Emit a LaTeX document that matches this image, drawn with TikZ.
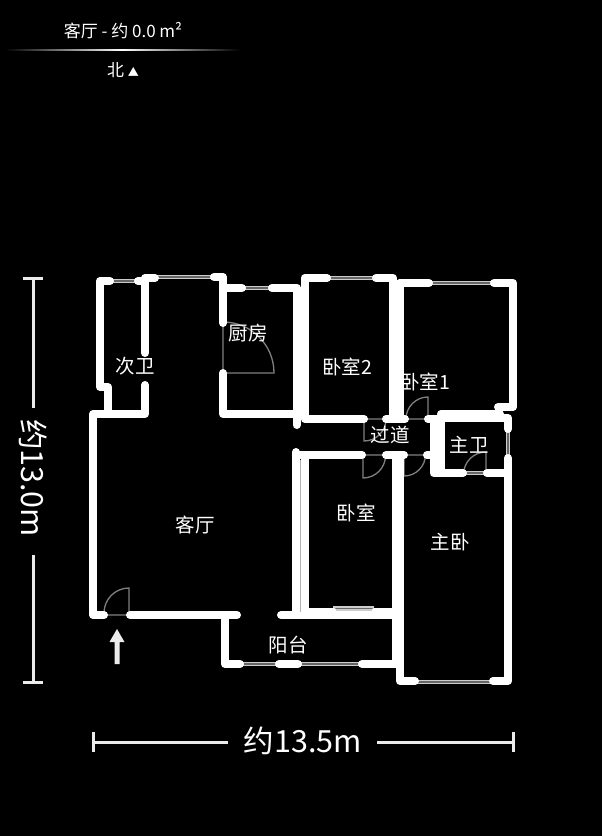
\documentclass[tikz,border=0pt]{standalone}
\usepackage{fontspec}
\usepackage{xcolor}
\setmainfont{Noto Sans CJK SC}
\newcommand{\labelsize}{\fontsize{19.5}{20}\selectfont}
\newcommand{\headsize}{\fontsize{17}{17}\selectfont}
\newcommand{\dimsize}{\fontsize{30.5}{31}\selectfont}

\begin{document}
\begin{tikzpicture}[
    x=1pt, y=-1pt,
    wall/.style={draw=white, line width=8pt, line cap=round, line join=round},
    thinwall/.style={draw=white, line width=4pt, line cap=round},
    windowpane/.style={draw=gray!40, line width=1.3pt, double=black!60, double distance=1.5pt, line cap=butt},
    doorline/.style={draw=gray, line width=1.3pt},
    roomlabel/.style={text=white, font=\labelsize, inner sep=0pt},
    headlabel/.style={text=white, font=\headsize, inner sep=0pt},
    dimlabel/.style={text=white, font=\dimsize, inner sep=0pt},
    dimline/.style={draw=white!92!black, line width=3pt},
    ]
    \fill[black] (0, 0) rectangle (602, 836);
    \useasboundingbox (0, 0) rectangle (602, 836);

    % header
    \node[headlabel] (title) at (123, 31) {客厅 - 约 0.0 m²};
    \node[headlabel] (north) at (123, 70) {北 {\fontsize{11}{11}\selectfont ▲}};
    \shade[left color=black, right color=black, middle color=white, shading angle=90] (5, 49.5) rectangle (240, 50.5);

    % windows
    \draw[windowpane] (108, 281) -- (140, 281);
    \draw[windowpane] (152, 277) -- (218, 277);
    \draw[windowpane] (240, 288) -- (272, 288);
    \draw[windowpane] (325, 278) -- (377, 278);
    \draw[windowpane] (430, 283) -- (494, 283);
    \draw[windowpane] (508, 429) -- (508, 457);
    \draw[windowpane] (463, 473) -- (487, 473);
    \draw[windowpane] (240, 664) -- (279, 664);
    \draw[windowpane] (298, 664) -- (362, 664);
    \draw[windowpane] (333, 608.5) -- (374, 608.5);
    \draw[windowpane] (416, 682) -- (492, 682);

    % doors
    \draw[doorline] (105, 615) -- (129, 615) -- (129, 588) arc (-90:-180:25);
    \draw[doorline] (223, 323) -- (223, 373) -- (274, 373) arc (0:-90:51);
    \draw[doorline] (406, 419) -- (428, 419) -- (428, 397) arc (-90:-180:22);
    \draw[doorline] (386, 419) -- (364, 419) -- (364, 441) arc (90:0:22);
    \draw[doorline] (385, 455) -- (363, 455) -- (363, 478) arc (90:0:22.5);
    \draw[doorline] (426, 455) -- (404, 455) -- (404, 476) arc (90:0:21.5);
    \draw[doorline] (486, 473) -- (486, 452) arc (-90:-180:22.5);
    \draw[doorline] (436, 456) -- (436, 470);

    % walls
    \draw[wall] (110, 281) -- (100, 281) -- (100, 387) -- (108, 387) -- (108, 410);
    \draw[wall] (143, 281) -- (138, 281);
    \draw[wall] (145, 353) -- (145, 278) -- (155, 278);
    \draw[wall] (214, 277) -- (223, 277) -- (223, 323);
    \draw[wall] (223, 288) -- (242, 288);
    \draw[wall] (272, 288) -- (297, 288);
    \draw[wall] (223, 373) -- (223, 414) -- (297, 414);
    \draw[wall] (145, 385) -- (145, 414) -- (93, 414) -- (93, 615) -- (104, 615);
    \draw[wall] (130, 615) -- (237, 615);
    \draw[wall] (225, 615) -- (225, 664) -- (240, 664);
    \draw[wall] (279, 664) -- (298, 664);
    \draw[wall] (362, 664) -- (396, 664);
    \draw[wall] (281, 615) -- (396, 615);
    \draw[wall] (296.5, 291) -- (296.5, 425);
    \draw[wall] (300.5, 291) -- (300.5, 415);
    \draw[wall] (327, 278) -- (304.5, 278) -- (304.5, 419) -- (364, 419);
    \draw[wall] (376, 278) -- (393, 278) -- (393, 419);
    \draw[wall] (400, 283) -- (429, 283);
    \draw[wall] (400, 283) -- (400, 419);
    \draw[wall] (386, 419) -- (405, 419);
    \draw[wall] (428, 419) -- (440, 419);
    \draw[wall] (494, 283) -- (513, 283) -- (513, 407) -- (498, 407);
    \draw[wall] (441, 414) -- (500, 414);
    \draw[wall] (441, 418) -- (508, 418) -- (508, 429);
    \draw[wall] (296, 452) -- (296, 612);
    \draw[wall] (304.5, 458) -- (304.5, 612);
    \draw[wall] (296, 455) -- (362, 455);
    \draw[wall] (386, 455) -- (404, 455);
    \draw[wall] (427, 455) -- (436, 455);
    \draw[wall] (396, 455) -- (396, 664);
    \draw[wall] (400, 458) -- (400, 681) -- (415, 681);
    \draw[wall] (441, 418) -- (441, 473);
    \draw[wall] (433.5, 422) -- (433.5, 473) -- (463, 473);
    \draw[wall] (487, 473) -- (508, 473);
    \draw[wall] (508, 458) -- (508, 681) -- (493, 681);
    \draw[thinwall] (304, 610) -- (334, 610);
    \draw[thinwall] (374, 610) -- (393, 610);
    \draw[draw=gray!60, line width=0.8pt] (300.5, 460) -- (300.5, 612);

    % entrance
    \fill[white!92!black] (117, 629) -- (124.5, 642) -- (119.5, 642) -- (119.5, 664) -- (114.5, 664) -- (114.5, 642) -- (109.5, 642) -- cycle;

    % rooms
    \node[roomlabel] (keting) at (195, 525) {客厅};
    \node[roomlabel] (ciwei) at (135, 366) {次卫};
    \node[roomlabel] (chufang) at (248, 333) {厨房};
    \node[roomlabel] (woshi2) at (347, 367) {卧室2};
    \node[roomlabel] (woshi1) at (425, 382) {卧室1};
    \node[roomlabel] (guodao) at (390, 435) {过道};
    \node[roomlabel] (zhuwei) at (469, 445) {主卫};
    \node[roomlabel] (woshi) at (356, 513) {卧室};
    \node[roomlabel] (zhuwo) at (450, 542) {主卧};
    \node[roomlabel] (yangtai) at (288, 645) {阳台};

    % dimensions
    \node[dimlabel] (width) at (303, 741) {约13.5m};
    \node[dimlabel, rotate=-90] (height) at (33, 478) {约13.0m};
    \coordinate (wleft) at (93, 742);
    \coordinate (wright) at (513, 742);
    \coordinate (htop) at (33, 278);
    \coordinate (hbottom) at (33, 682);
    \draw[dimline] (wleft) -- (228, 742) (377, 742) -- (wright);
    \draw[dimline] (93, 732) -- (93, 752) (513, 732) -- (513, 752);
    \draw[dimline] (htop) -- (33, 408) (33, 555) -- (hbottom);
    \draw[dimline] (23, 278) -- (43, 278) (23, 682) -- (43, 682);
\end{tikzpicture}
\end{document}
